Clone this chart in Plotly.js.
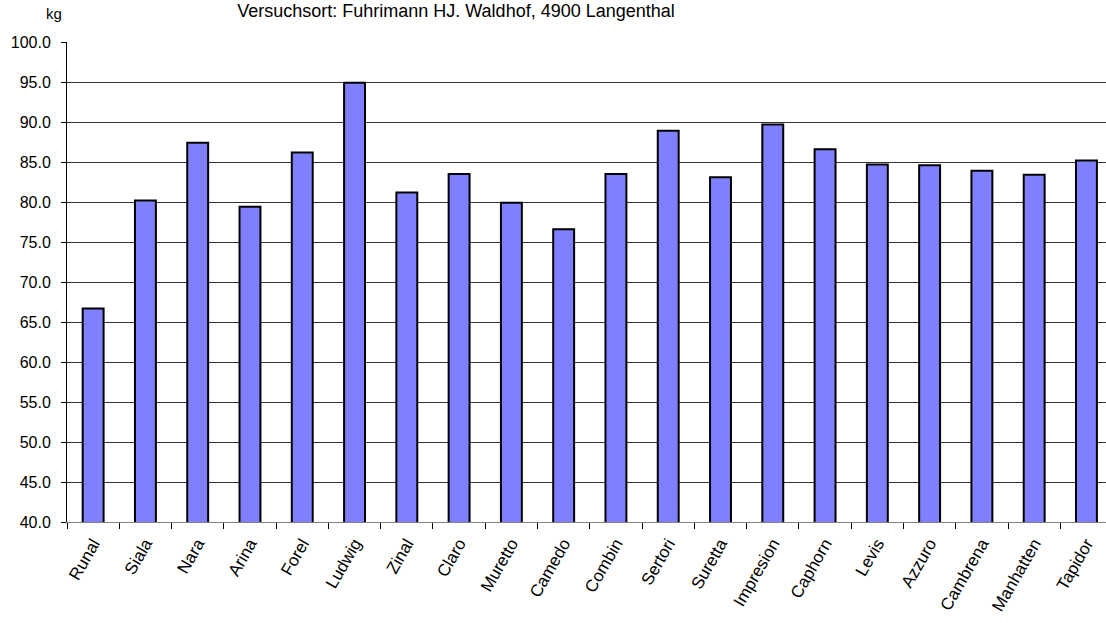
<!DOCTYPE html>
<html>
<head>
<meta charset="utf-8">
<script src="https://cdn.plot.ly/plotly-3.0.1.min.js"></script>
<style>
  html, body { margin: 0; padding: 0; background: #fff; overflow: hidden; }
  #chart { width: 1106px; height: 623px; }
</style>
</head>
<body>
<div id="chart"></div>
<script>
const categories = ["Runal", "Siala", "Nara", "Arina", "Forel", "Ludwig", "Zinal", "Claro", "Muretto", "Camedo",
  "Combin", "Sertori", "Suretta", "Impresion", "Caphorn", "Levis", "Azzuro", "Cambrena", "Manhatten", "Tapidor"];
const values = [66.7, 80.2, 87.4, 79.4, 86.2, 94.9, 81.2, 83.5, 79.9, 76.6,
  83.5, 88.9, 83.1, 89.7, 86.6, 84.7, 84.6, 83.9, 83.4, 85.2];
const titleText = "Versuchsort: Fuhrimann HJ. Waldhof, 4900 Langenthal";
const unitLabel = "kg";

const font = "Liberation Sans, Arial, sans-serif";

const trace = {
  type: "bar",
  x: categories,
  y: values,
  width: 0.4,
  marker: { color: "#8080FF", line: { color: "#000000", width: 2 } },
  hoverinfo: "skip"
};

const layout = {
  width: 1106,
  height: 623,
  margin: { l: 67, r: 0, t: 42, b: 101 },
  paper_bgcolor: "#ffffff",
  plot_bgcolor: "#ffffff",
  showlegend: false,
  font: { family: font, color: "#000000", size: 16 },
  title: {
    text: titleText,
    font: { family: font, size: 18, color: "#000000" },
    x: 456 / 1106,
    xanchor: "center",
    y: 1 - 4 / 623,
    yanchor: "top"
  },
  xaxis: {
    type: "category",
    range: [-0.5, -0.5 + 1039 / 52.28],
    showline: true,
    linecolor: "#808080",
    linewidth: 1,
    ticks: "outside",
    tickson: "boundaries",
    ticklen: 6,
    tickcolor: "#000000",
    tickangle: -60,
    ticklabelstandoff: 4,
    tickfont: { family: font, size: 17, color: "#000000" },
    showgrid: false,
    fixedrange: true
  },
  yaxis: {
    range: [40, 100],
    dtick: 5,
    tick0: 40,
    tickformat: ".1f",
    showline: true,
    linecolor: "#000000",
    linewidth: 1,
    ticks: "outside",
    ticklen: 5,
    tickcolor: "#000000",
    ticklabelstandoff: 7,
    showgrid: true,
    gridcolor: "#333333",
    gridwidth: 1,
    zeroline: false,
    tickfont: { family: font, size: 16, color: "#000000" },
    fixedrange: true
  },
  annotations: [{
    text: unitLabel,
    xref: "paper", yref: "paper",
    x: -3 / 1039, y: 1 + 18 / 480,
    xanchor: "right", yanchor: "bottom",
    showarrow: false,
    font: { family: font, size: 15, color: "#000000" }
  }]
};

Plotly.newPlot("chart", [trace], layout, { displayModeBar: false, staticPlot: true });
</script>
</body>
</html>
